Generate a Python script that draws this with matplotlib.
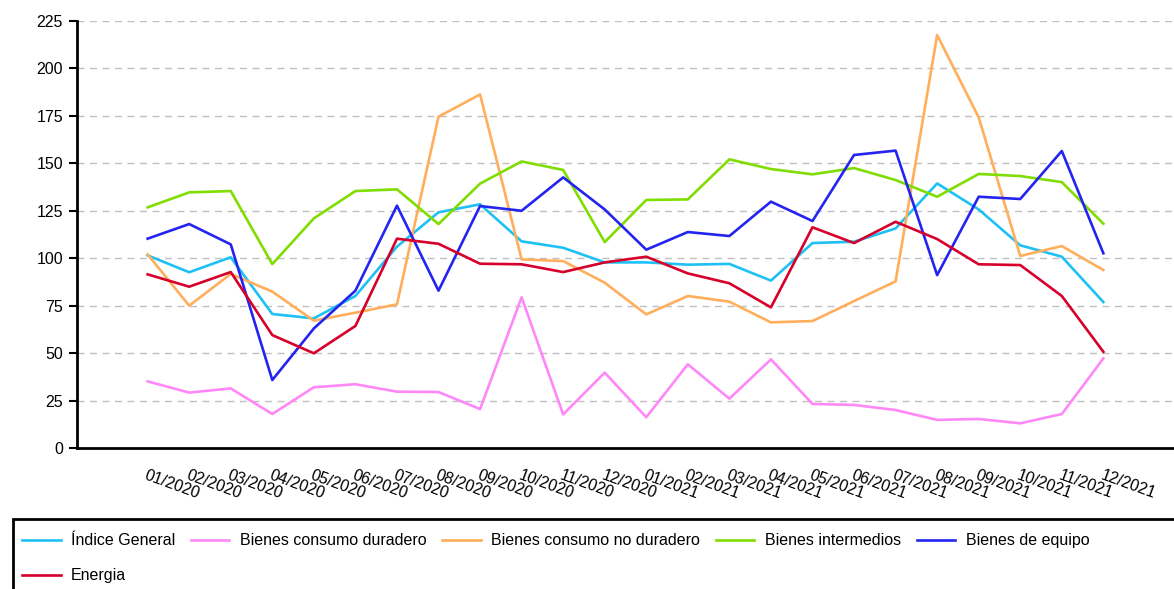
import numpy as np
import matplotlib.pyplot as plt
from matplotlib.patches import Rectangle

plt.rcParams['font.family'] = ['Liberation Sans', 'DejaVu Sans']

months = ['01/2020', '02/2020', '03/2020', '04/2020', '05/2020', '06/2020',
          '07/2020', '08/2020', '09/2020', '10/2020', '11/2020', '12/2020',
          '01/2021', '02/2021', '03/2021', '04/2021', '05/2021', '06/2021',
          '07/2021', '08/2021', '09/2021', '10/2021', '11/2021', '12/2021']

indice_general = [101.5, 92.6, 100.5, 70.6, 68.3, 80.1, 106.1, 124.2, 128.4, 108.9, 105.5, 97.8,
                  97.8, 96.6, 97.0, 88.2, 108.0, 108.7, 115.7, 139.4, 125.7, 106.8, 100.8, 76.9]
consumo_duradero = [35.1, 29.2, 31.4, 17.9, 32.0, 33.6, 29.7, 29.5, 20.5, 79.4, 17.7, 39.7,
                    16.2, 44.1, 26.0, 46.7, 23.2, 22.7, 20.0, 14.8, 15.3, 13.0, 17.9, 47.2]
consumo_no_duradero = [102.0, 75.0, 91.7, 82.4, 67.1, 71.3, 75.7, 174.6, 186.3, 99.4, 98.5, 87.1,
                       70.4, 80.1, 77.1, 66.2, 66.9, 77.4, 87.8, 217.6, 174.2, 101.2, 106.4, 93.8]
intermedios = [126.8, 134.7, 135.4, 96.9, 121.0, 135.4, 136.3, 118.0, 139.3, 151.0, 146.5, 108.5,
               130.7, 131.0, 152.1, 147.0, 144.2, 147.5, 141.2, 132.4, 144.4, 143.3, 140.1, 118.2]
equipo = [110.3, 118.0, 107.3, 35.8, 63.0, 82.9, 127.7, 82.9, 127.5, 125.0, 142.6, 125.7,
          104.5, 113.8, 111.7, 129.8, 119.6, 154.4, 156.7, 91.1, 132.4, 131.2, 156.5, 102.6]
energia = [91.5, 85.0, 92.7, 59.5, 49.9, 64.3, 110.3, 107.6, 97.1, 96.8, 92.7, 97.8,
           100.8, 92.0, 86.8, 74.1, 116.3, 108.0, 119.2, 110.1, 96.8, 96.4, 80.1, 50.7]

series = [
    ('Índice General', indice_general, '#1ec0f5'),
    ('Bienes consumo duradero', consumo_duradero, '#ff88f8'),
    ('Bienes consumo no duradero', consumo_no_duradero, '#ffae5c'),
    ('Bienes intermedios', intermedios, '#80dd00'),
    ('Bienes de equipo', equipo, '#2424f0'),
    ('Energia', energia, '#d6002a'),
]

fig = plt.figure(figsize=(11.74, 5.89), dpi=100)
ax = fig.add_axes([77 / 1174, 1 - 448 / 589, 1 - 77 / 1174, (448 - 21) / 589])

x = np.arange(len(months))
for name, vals, color in series:
    ax.plot(x, vals, color=color, lw=1.9, label=name)

ax.set_xlim(-1.7, 24.7)
ax.set_ylim(0, 225)
ax.set_yticks(np.arange(0, 226, 25))
ax.yaxis.grid(True, color='#c0c0c0', linestyle=(0, (5, 4)), lw=1)
ax.set_axisbelow(True)

ax.set_xticks(x)
ax.set_xticklabels(months, rotation=-20, ha='left', rotation_mode='anchor', fontsize=11.5)
ax.tick_params(axis='x', length=0, pad=14)
ax.tick_params(axis='y', length=6, width=1.5, labelsize=11.5, pad=4)

for s in ['top', 'right']:
    ax.spines[s].set_visible(False)
ax.spines['left'].set_linewidth(2)
ax.spines['bottom'].set_linewidth(2)

# legend box
fig.patches.append(Rectangle((13 / 1174, -0.05), 1.2, (589 - 519) / 589 + 0.05,
                             transform=fig.transFigure, fill=False,
                             edgecolor='black', lw=2))
handles, labels = ax.get_legend_handles_labels()
order = [0, 5, 1, 2, 3, 4]
fig.legend([handles[i] for i in order], [labels[i] for i in order],
           loc='upper left', bbox_to_anchor=(19 / 1174, 1 - 530 / 589),
           ncol=5, frameon=False, fontsize=11.5, handlelength=2.4, handletextpad=0.65,
           columnspacing=1.0, labelspacing=1.25, borderaxespad=0, borderpad=0.2)

fig.savefig('out.png', dpi=100)
